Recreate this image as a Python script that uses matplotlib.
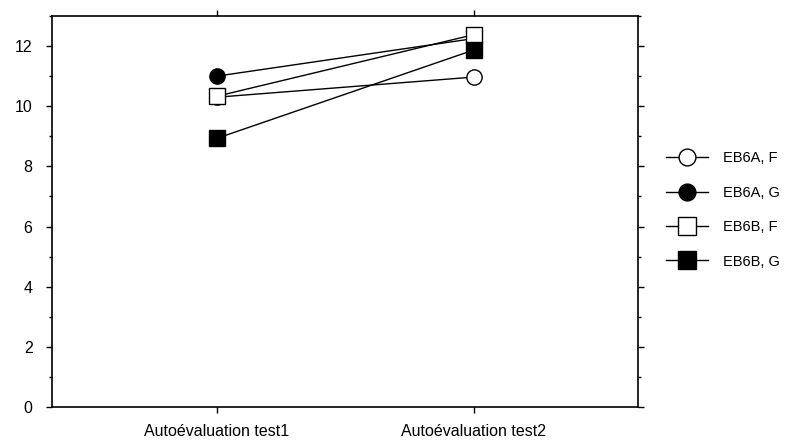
import numpy as np
import matplotlib.pyplot as plt
from matplotlib.ticker import MultipleLocator

plt.rcParams['font.family'] = ['Liberation Sans', 'DejaVu Sans']

categories = ['Autoévaluation test1', 'Autoévaluation test2']
series_names = ['EB6A, F', 'EB6A, G', 'EB6B, F', 'EB6B, G']
eb6a_f = [10.3, 10.97]
eb6a_g = [11.0, 12.25]
eb6b_f = [10.33, 12.38]
eb6b_g = [8.93, 11.87]

styles = [('o', 'white'), ('o', 'black'), ('s', 'white'), ('s', 'black')]

fig = plt.figure(figsize=(8.08, 4.41), dpi=100)
ax = fig.add_axes([0.0644, 0.077, 0.7256, 0.8867])

x = np.arange(len(categories))
for name, vals, (m, fc) in zip(series_names, [eb6a_f, eb6a_g, eb6b_f, eb6b_g], styles):
    ax.plot(x, vals, color='black', lw=1, marker=m, markersize=11 if m == 'o' else 11.5,
            markerfacecolor=fc, markeredgecolor='black', markeredgewidth=1, label=name)

ax.set_xlim(-0.64, 1.64)
ax.set_ylim(0, 13)
ax.set_xticks(x)
ax.set_xticklabels(categories, fontsize=11.5)
ax.yaxis.set_major_locator(MultipleLocator(2))
ax.yaxis.set_minor_locator(MultipleLocator(1))
ax.tick_params(axis='both', which='both', direction='out', top=True, right=True, labelsize=11.5)
ax.tick_params(which='major', length=4, width=1)
ax.tick_params(which='minor', length=2, width=1)
ax.tick_params(axis='y', pad=10)
ax.tick_params(axis='x', pad=8)
for s in ax.spines.values():
    s.set_linewidth(1.2)

ax.legend(loc='center left', bbox_to_anchor=(0.815, 0.524), bbox_transform=fig.transFigure,
          frameon=False, fontsize=10.5, handlelength=2.9, labelspacing=1.4,
          handletextpad=1.0, borderpad=0, markerscale=1.1)

fig.savefig('out.png', dpi=100)
